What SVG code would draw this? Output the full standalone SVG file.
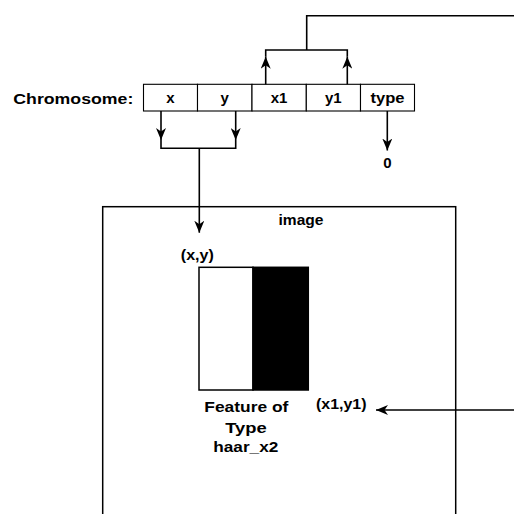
<svg xmlns="http://www.w3.org/2000/svg" width="514" height="514" viewBox="0 0 514 514">
<defs>
<style>
text{font-family:"Liberation Sans",Arial,Helvetica,sans-serif;font-weight:bold;fill:#000;}
.t15{font-size:15px;}
.t14{font-size:14px;}
.box{fill:#fff;stroke:#000;stroke-width:1.1;}
.ln{fill:none;stroke:#000;stroke-width:1.6;}
</style>
<marker id="arr" markerUnits="userSpaceOnUse" viewBox="0 0 12 10" refX="12" refY="5" markerWidth="12" markerHeight="10" orient="auto">
<path d="M0,0 L12,5 L0,10 L3.5,5 z" fill="#000"/>
</marker>
</defs>
<rect width="514" height="514" fill="#fff"/>

<g id="image">
<rect x="102.7" y="206.7" width="353" height="330" fill="none" stroke="#000" stroke-width="1.5"/>
<text class="t15" x="301" y="224.5" text-anchor="middle" textLength="45" lengthAdjust="spacingAndGlyphs">image</text>
</g>

<g id="feature">
<rect x="199" y="267.3" width="54" height="122.7" fill="#fff" stroke="#000" stroke-width="1.5"/>
<rect x="253" y="267.3" width="55.3" height="122.7" fill="#000" stroke="#000" stroke-width="1.5"/>
<text class="t15" x="246.3" y="411.7" text-anchor="middle" textLength="84" lengthAdjust="spacingAndGlyphs">Feature of</text>
<text class="t15" x="246" y="432.7" text-anchor="middle" textLength="41.5" lengthAdjust="spacingAndGlyphs">Type</text>
<text class="t15" x="245.8" y="451.7" text-anchor="middle" textLength="65" lengthAdjust="spacingAndGlyphs">haar_x2</text>
</g>

<g id="label-xy">
<text class="t14" x="197.3" y="259.5" text-anchor="middle" textLength="33" lengthAdjust="spacingAndGlyphs">(x,y)</text>
</g>
<g id="label-x1y1">
<text class="t14" x="341.3" y="409.3" text-anchor="middle" textLength="50.5" lengthAdjust="spacingAndGlyphs">(x1,y1)</text>
</g>

<g id="chromosome">
<text class="t15" x="13.3" y="104" textLength="120" lengthAdjust="spacingAndGlyphs">Chromosome:</text>
</g>
<g id="gene-x"><rect class="box" x="143.5" y="84.3" width="54" height="26.7"/><text class="t15" x="170.5" y="103" text-anchor="middle">x</text></g>
<g id="gene-y"><rect class="box" x="197.5" y="84.3" width="54.5" height="26.7"/><text class="t15" x="224.7" y="103" text-anchor="middle">y</text></g>
<g id="gene-x1"><rect class="box" x="252" y="84.3" width="54.3" height="26.7"/><text class="t15" x="279" y="103" text-anchor="middle">x1</text></g>
<g id="gene-y1"><rect class="box" x="306.3" y="84.3" width="54.2" height="26.7"/><text class="t15" x="333.3" y="103" text-anchor="middle">y1</text></g>
<g id="gene-type"><rect class="box" x="360.5" y="84.3" width="54" height="26.7"/><text class="t15" x="387.5" y="103" text-anchor="middle" textLength="34" lengthAdjust="spacingAndGlyphs">type</text></g>
<g id="zero"><text class="t15" x="387.3" y="168" text-anchor="middle">0</text></g>

<g id="connectors">
<line class="ln" x1="265.7" y1="84.3" x2="265.7" y2="56.7" marker-end="url(#arr)"/>
<line class="ln" x1="347.3" y1="84.3" x2="347.3" y2="56.7" marker-end="url(#arr)"/>
<path class="ln" d="M265.7,56.7 V50 H347.3 V56.7"/>
<path class="ln" d="M306.7,50 V15.7 H514"/>
<line class="ln" x1="161" y1="111" x2="161" y2="140" marker-end="url(#arr)"/>
<line class="ln" x1="235.7" y1="111" x2="235.7" y2="140" marker-end="url(#arr)"/>
<path class="ln" d="M161,140 V148.3 H235.7 V140"/>
<line class="ln" x1="199.3" y1="148.3" x2="199.3" y2="232.7" marker-end="url(#arr)"/>
<line class="ln" x1="387.3" y1="111" x2="387.3" y2="150.5" marker-end="url(#arr)"/>
<line class="ln" x1="514" y1="410" x2="376" y2="410" marker-end="url(#arr)"/>
</g>
</svg>
